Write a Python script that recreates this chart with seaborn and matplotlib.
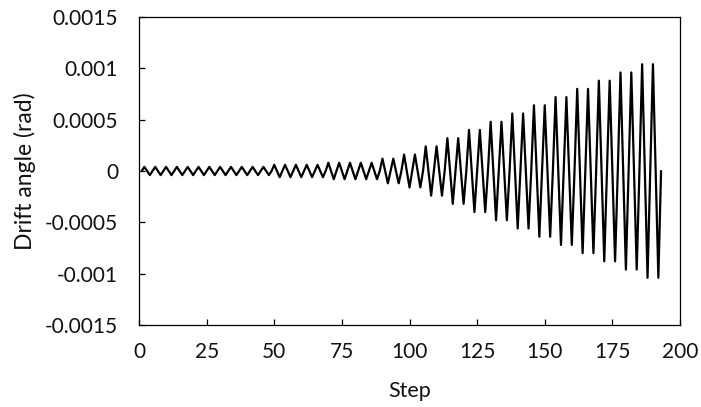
import numpy as np
import pandas as pd
import matplotlib
matplotlib.use("Agg")
import matplotlib.pyplot as plt
import seaborn as sns

# Loading protocol: drift amplitude of each level (rad) and number of full cycles at that level.
# Every cycle runs 0 -> +amplitude -> 0 -> -amplitude, one step per point.
level_amplitudes = [0.00004, 0.00006, 0.00008, 0.00012, 0.00016, 0.00024, 0.00032,
                    0.00040, 0.00048, 0.00056, 0.00064, 0.00072, 0.00080, 0.00088,
                    0.00096, 0.00104]
cycles_per_level = [12, 5, 5, 2, 2, 2, 2, 2, 2, 2, 2, 2, 2, 2, 2, 2]

cycle_shape = [0.0, 1.0, 0.0, -1.0]
first_step = 1

drift = []
for amp, n in zip(level_amplitudes, cycles_per_level):
    for _ in range(n):
        drift.extend(amp * s for s in cycle_shape)
drift.append(0.0)
steps = np.arange(first_step, first_step + len(drift))

df = pd.DataFrame({"Step": steps, "Drift angle (rad)": drift})

x_ticks = [0, 25, 50, 75, 100, 125, 150, 175, 200]
y_ticks = [-0.0015, -0.001, -0.0005, 0, 0.0005, 0.001, 0.0015]
y_tick_labels = ["-0.0015", "-0.001", "-0.0005", "0", "0.0005", "0.001", "0.0015"]

sns.set_theme(style="white")
plt.rcParams["font.family"] = ["Lato", "DejaVu Sans"]

fig = plt.figure(figsize=(7.01, 4.07), dpi=100)
ax = fig.add_axes([139 / 701, 1 - 325 / 407, 541 / 701, 308 / 407])

sns.lineplot(data=df, x="Step", y="Drift angle (rad)", ax=ax,
             color="black", linewidth=1.6, estimator=None, sort=False)

ax.set_xlim(0, 200)
ax.set_ylim(-0.0015, 0.0015)
ax.set_xticks(x_ticks)
ax.set_xticklabels([str(t) for t in x_ticks])
ax.set_yticks(y_ticks)
ax.set_yticklabels(y_tick_labels)

for side in ["left", "right", "top", "bottom"]:
    ax.spines[side].set_visible(True)
    ax.spines[side].set_color("black")
    ax.spines[side].set_linewidth(0.9)

ax.tick_params(axis="both", which="major", direction="in", length=4.5, width=0.9,
               color="black", labelsize=15, labelcolor="#111111")
ax.tick_params(axis="x", pad=12)
ax.tick_params(axis="y", pad=15)
ax.tick_params(top=False, right=False, bottom=True, left=True)

ax.set_xlabel("Step", fontsize=15.5, color="#111111")
ax.set_ylabel("Drift angle (rad)", fontsize=16.5, color="#111111")
ax.xaxis.set_label_coords(0.5, -0.182)
ax.yaxis.set_label_coords(-0.191, 0.5)
ax.grid(False)

fig.savefig("out.png", dpi=100)
